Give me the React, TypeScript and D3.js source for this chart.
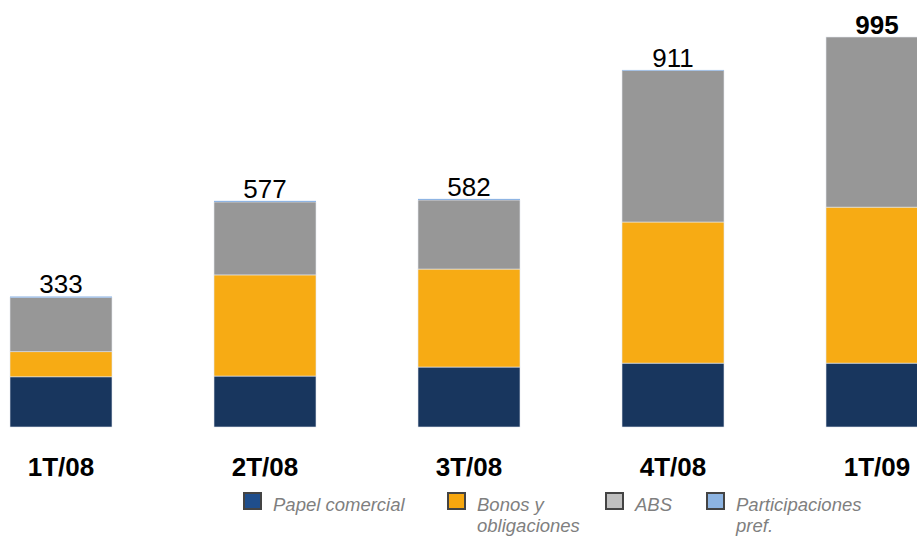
import * as d3 from "d3";
import { useEffect, useRef } from "react";

const categories = ["1T/08", "2T/08", "3T/08", "4T/08", "1T/09"];
const papel = [128, 130, 153, 163, 163];
const bonos = [64, 258, 250, 360, 398];
const abs = [138, 186, 176, 386, 434];
const pref = [3, 3, 3, 2, 0];
const totals = [333, 577, 582, 911, 995];

const seriesNames = ["Papel comercial", "Bonos y obligaciones", "ABS", "Participaciones pref."];
const barColors = ["#18365e", "#f7ab14", "#979797", "#8eb4e3"];
const legendColors = ["#1f4e8c", "#f7a70f", "#c0c0c0", "#8db4e2"];
const legendLines = [["Papel comercial"], ["Bonos y", "obligaciones"], ["ABS"], ["Participaciones", "pref."]];

const App = () => {
  const ref: any = useRef();

  useEffect(() => {
    const svg = d3.select(ref.current);
    svg.selectAll("*").remove();

    const baseline = 427;

    const x = d3.scaleBand().domain(categories).range([-41, 979]).paddingInner(0.5).paddingOuter(0.25);
    const y = d3.scaleLinear().domain([0, 995]).range([baseline, baseline - 390]);

    const table = categories.map((c, i) => ({
      cat: c,
      [seriesNames[0]]: papel[i],
      [seriesNames[1]]: bonos[i],
      [seriesNames[2]]: abs[i],
      [seriesNames[3]]: pref[i],
    }));
    const stacked = d3.stack<any>().keys(seriesNames)(table);

    const g = svg.append("g");
    stacked.forEach((layer, li) => {
      g.selectAll(null)
        .data(layer)
        .join("rect")
        .attr("x", (d: any) => x(d.data.cat)!)
        .attr("width", x.bandwidth())
        .attr("y", (d) => y(d[1]))
        .attr("height", (d) => Math.max(0, y(d[0]) - y(d[1])))
        .attr("fill", barColors[li])
        .attr("stroke", li === 3 ? "none" : "#e4e8ee")
        .attr("stroke-width", 0.6);
    });

    // totals
    svg.append("g")
      .selectAll("text")
      .data(categories)
      .join("text")
      .attr("x", (d) => x(d)! + x.bandwidth() / 2)
      .attr("y", (d, i) => y(totals[i]) - 3)
      .attr("text-anchor", "middle")
      .attr("font-family", "Liberation Sans, Arial, sans-serif")
      .attr("font-size", 26)
      .attr("font-weight", (d, i) => (i === 4 ? "bold" : "normal"))
      .attr("fill", "#000")
      .text((d, i) => totals[i]);

    // category labels
    svg.append("g")
      .selectAll("text")
      .data(categories)
      .join("text")
      .attr("x", (d) => x(d)! + x.bandwidth() / 2)
      .attr("y", 476)
      .attr("text-anchor", "middle")
      .attr("font-family", "Liberation Sans, Arial, sans-serif")
      .attr("font-size", 26)
      .attr("font-weight", "bold")
      .attr("fill", "#000")
      .text((d) => d);

    // legend
    const legendX = [243, 447, 605, 706];
    const leg = svg.append("g");
    seriesNames.forEach((s, i) => {
      leg.append("rect")
        .attr("x", legendX[i] + 1)
        .attr("y", 493)
        .attr("width", 17)
        .attr("height", 16)
        .attr("fill", legendColors[i])
        .attr("stroke", "#444")
        .attr("stroke-width", 2);
      const t = leg.append("text")
        .attr("x", legendX[i] + 30)
        .attr("y", 511)
        .attr("font-family", "Liberation Sans, Arial, sans-serif")
        .attr("font-size", 18.5)
        .attr("font-style", "italic")
        .attr("fill", "#7f7f7f");
      legendLines[i].forEach((line, j) => {
        t.append("tspan")
          .attr("x", legendX[i] + 30)
          .attr("dy", j === 0 ? 0 : 21)
          .text(line);
      });
    });
  }, []);

  return (
    <svg
      ref={ref}
      width={917}
      height={538}
      style={{ position: "absolute", left: 0, top: 0, background: "#fff" }}
    />
  );
};

export default App;
